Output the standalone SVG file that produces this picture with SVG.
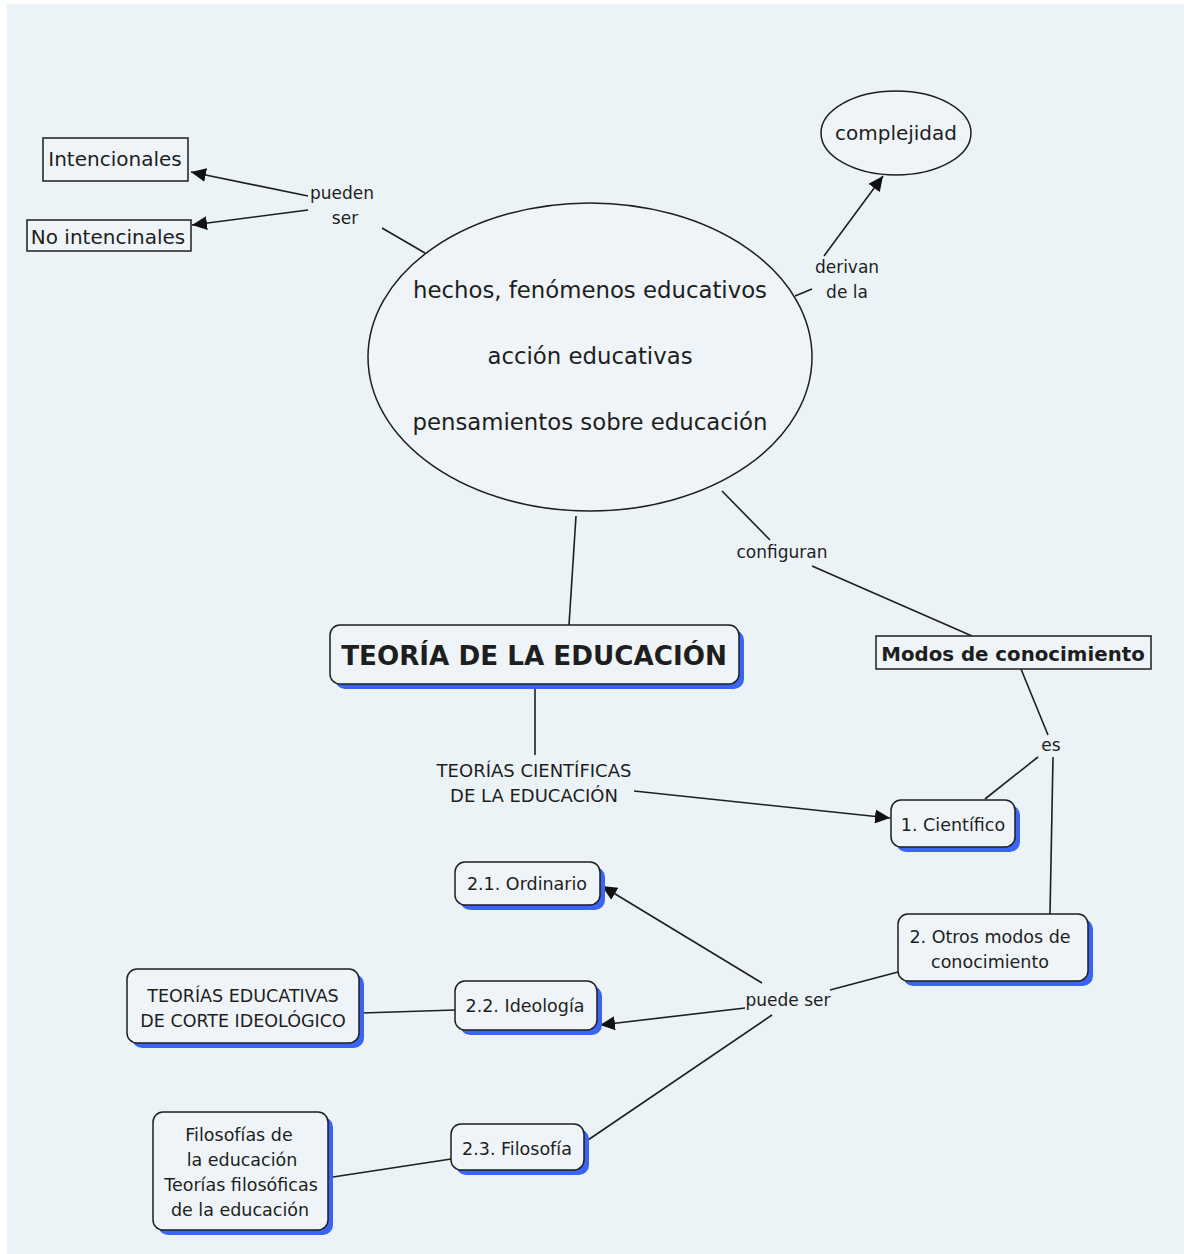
<svg xmlns="http://www.w3.org/2000/svg" width="1184" height="1254" viewBox="0 0 1184 1254">
<style>
text{font-family:"DejaVu Sans",Verdana,sans-serif;fill:#1e1e1e;text-anchor:middle;dominant-baseline:central}
.lbl{font-size:17px}
.n{font-size:17.5px}
.big{font-size:22.8px}
.box{fill:#eef4f7;stroke:#1e1e1e;stroke-width:1.5}
.sh{fill:#3a64f2}
.ln{stroke:#1e1e1e;stroke-width:1.6;fill:none}
</style>
<defs>
<marker id="ah" markerUnits="userSpaceOnUse" markerWidth="16" markerHeight="14" refX="15" refY="7" orient="auto">
<path d="M0,0 L15,7 L0,14 z" fill="#111"/>
</marker>
</defs>
<rect x="0" y="0" width="1184" height="1254" fill="#ffffff"/>
<rect x="7" y="4" width="1177" height="1250" fill="#ecf3f6"/>

<g id="connectors">
<line class="ln" x1="308" y1="196" x2="191" y2="172" marker-end="url(#ah)"/>
<line class="ln" x1="308" y1="210" x2="192" y2="225" marker-end="url(#ah)"/>
<line class="ln" x1="382" y1="228" x2="425" y2="253"/>
<line class="ln" x1="795" y1="296" x2="812" y2="289"/>
<line class="ln" x1="824" y1="256" x2="883" y2="176" marker-end="url(#ah)"/>
<line class="ln" x1="722" y1="491" x2="770" y2="540"/>
<line class="ln" x1="812" y1="566" x2="972" y2="636"/>
<line class="ln" x1="576" y1="516" x2="569" y2="625"/>
<line class="ln" x1="535" y1="688" x2="535" y2="755"/>
<line class="ln" x1="634" y1="791" x2="890" y2="818" marker-end="url(#ah)"/>
<line class="ln" x1="1021" y1="669" x2="1048" y2="735"/>
<line class="ln" x1="1038" y1="757" x2="985" y2="799"/>
<line class="ln" x1="1053" y1="757" x2="1050" y2="914"/>
<line class="ln" x1="898" y1="972" x2="830" y2="990"/>
<line class="ln" x1="762" y1="983" x2="602" y2="886" marker-end="url(#ah)"/>
<line class="ln" x1="745" y1="1008" x2="600" y2="1025" marker-end="url(#ah)"/>
<line class="ln" x1="772" y1="1015" x2="588" y2="1140"/>
<line class="ln" x1="362" y1="1013" x2="455" y2="1010"/>
<line class="ln" x1="333" y1="1177" x2="451" y2="1159"/>
</g>

<g id="lbl-pueden-ser"><text class="lbl" x="342" y="193">pueden</text><text class="lbl" x="345" y="218">ser</text></g>
<g id="lbl-derivan"><text class="lbl" x="847" y="267">derivan</text><text class="lbl" x="847" y="292">de la</text></g>
<g id="lbl-configuran"><text class="lbl" x="782" y="552">configuran</text></g>
<g id="lbl-es"><text class="lbl" x="1051" y="745">es</text></g>
<g id="lbl-teorias-cientificas"><text style="font-size:18px" x="534" y="770">TEORÍAS CIENTÍFICAS</text><text style="font-size:18px" x="534" y="795">DE LA EDUCACIÓN</text></g>
<g id="lbl-puede-ser"><text class="lbl" x="788" y="1000">puede ser</text></g>

<g id="n-intencionales"><rect class="box" x="43" y="138" width="145" height="43"/><text style="font-size:20px" x="115" y="159">Intencionales</text></g>
<g id="n-no-intencionales"><rect class="box" x="27" y="220" width="164" height="31"/><text style="font-size:20px" x="108" y="237">No intencinales</text></g>
<g id="n-hechos"><ellipse class="box" cx="590" cy="357" rx="222" ry="154"/>
<text class="big" x="590" y="290">hechos, fenómenos educativos</text>
<text class="big" x="590" y="356">acción educativas</text>
<text class="big" x="590" y="422">pensamientos sobre educación</text></g>
<g id="n-complejidad"><ellipse class="box" cx="896" cy="133" rx="75" ry="42"/><text style="font-size:20px" x="896" y="133">complejidad</text></g>
<g id="n-teoria"><rect class="sh" x="335" y="630" width="409" height="59" rx="10"/><rect class="box" x="330" y="625" width="409" height="59" rx="10"/><text style="font-size:26.2px;font-weight:bold" x="534" y="656">TEORÍA DE LA EDUCACIÓN</text></g>
<g id="n-modos"><rect class="box" x="876" y="636" width="275" height="33"/><text style="font-size:19.8px;font-weight:bold" x="1013" y="654">Modos de conocimiento</text></g>
<g id="n-cientifico"><rect class="sh" x="896" y="805" width="124" height="47" rx="10"/><rect class="box" x="891" y="800" width="124" height="47" rx="10"/><text class="n" x="953" y="825">1. Científico</text></g>
<g id="n-otros"><rect class="sh" x="903" y="919" width="190" height="67" rx="10"/><rect class="box" x="898" y="914" width="190" height="67" rx="10"/><text class="n" x="990" y="937">2. Otros modos de</text><text class="n" x="990" y="962">conocimiento</text></g>
<g id="n-ordinario"><rect class="sh" x="460" y="867" width="145" height="43" rx="10"/><rect class="box" x="455" y="862" width="145" height="43" rx="10"/><text class="n" x="527" y="884">2.1. Ordinario</text></g>
<g id="n-ideologia"><rect class="sh" x="460" y="986" width="142" height="49" rx="10"/><rect class="box" x="455" y="981" width="142" height="49" rx="10"/><text class="n" x="525" y="1006">2.2. Ideología</text></g>
<g id="n-teorias-educativas"><rect class="sh" x="132" y="974" width="232" height="74" rx="10"/><rect class="box" x="127" y="969" width="232" height="74" rx="10"/><text class="n" x="243" y="996">TEORÍAS EDUCATIVAS</text><text class="n" x="243" y="1021">DE CORTE IDEOLÓGICO</text></g>
<g id="n-filosofia"><rect class="sh" x="456" y="1129" width="133" height="46" rx="10"/><rect class="box" x="451" y="1124" width="133" height="46" rx="10"/><text class="n" x="517" y="1149">2.3. Filosofía</text></g>
<g id="n-filosofias"><rect class="sh" x="158" y="1117" width="175" height="118" rx="10"/><rect class="box" x="153" y="1112" width="175" height="118" rx="10"/>
<text class="n" x="239" y="1135">Filosofías de</text><text class="n" x="242" y="1160">la educación</text><text class="n" x="241" y="1185">Teorías filosóficas</text><text class="n" x="240" y="1210">de la educación</text></g>
</svg>
